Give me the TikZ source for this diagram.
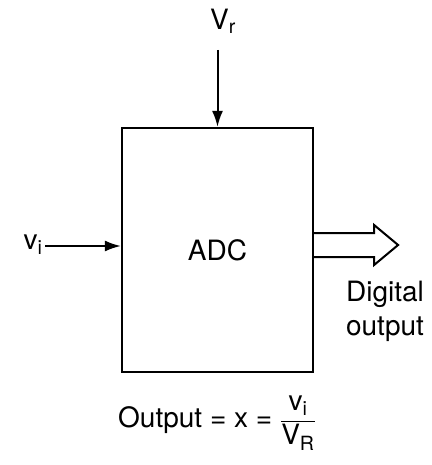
\documentclass[tikz,border=0pt]{standalone}
\usepackage{fontspec}
\setmainfont{TeX Gyre Heros}
\usetikzlibrary{arrows.meta,calc}
\tikzset{
  box/.style={draw, line width=2.2pt, minimum width=191pt, minimum height=244pt, inner sep=0pt},
  sig/.style={line width=2pt, -{Latex[length=16pt,width=11pt]}},
  lbl/.style={inner sep=0pt, font=\fontsize{28}{33}\selectfont}
}
\begin{document}
\begin{tikzpicture}[x=1pt, y=-1pt]
  \useasboundingbox (0,0) rectangle (431,465);
  % the converter block
  \node[box, lbl] (adc) at (217.5,250) {ADC};

  % reference voltage from above
  \node[lbl] (vr) at (223,21) {V\textsubscript{r}};
  \coordinate (vrtop) at (217.5,50);
  \draw[sig] (vrtop) -- (vrtop |- adc.north);

  % analog input from the left
  \node[lbl] (vi) at (33,245) {v\textsubscript{i}};
  \coordinate (vistart) at (45,246);
  \draw[sig] (vistart) -- (vistart -| adc.west);

  % hollow output arrow
  \coordinate (out) at (adc.east |- 0,245);
  \draw[line width=2pt, line join=miter]
    ($(out)+(0,-12)$) -- ++(60,0) -- ++(0,-8) -- ($(out)+(84,0)$)
    -- ($(out)+(60,20)$) -- ++(0,-8) -- ($(out)+(0,12)$);
  \node[lbl, align=center] (dig) at (385,311) {Digital\\[1pt]output};

  % relation below the block
  \node[lbl] (eq) at (217,423)
    {Output = x = $\displaystyle\frac{\mbox{\,v\textsubscript{i}\,}}{\mbox{V\textsubscript{R}}}$};
\end{tikzpicture}
\end{document}
